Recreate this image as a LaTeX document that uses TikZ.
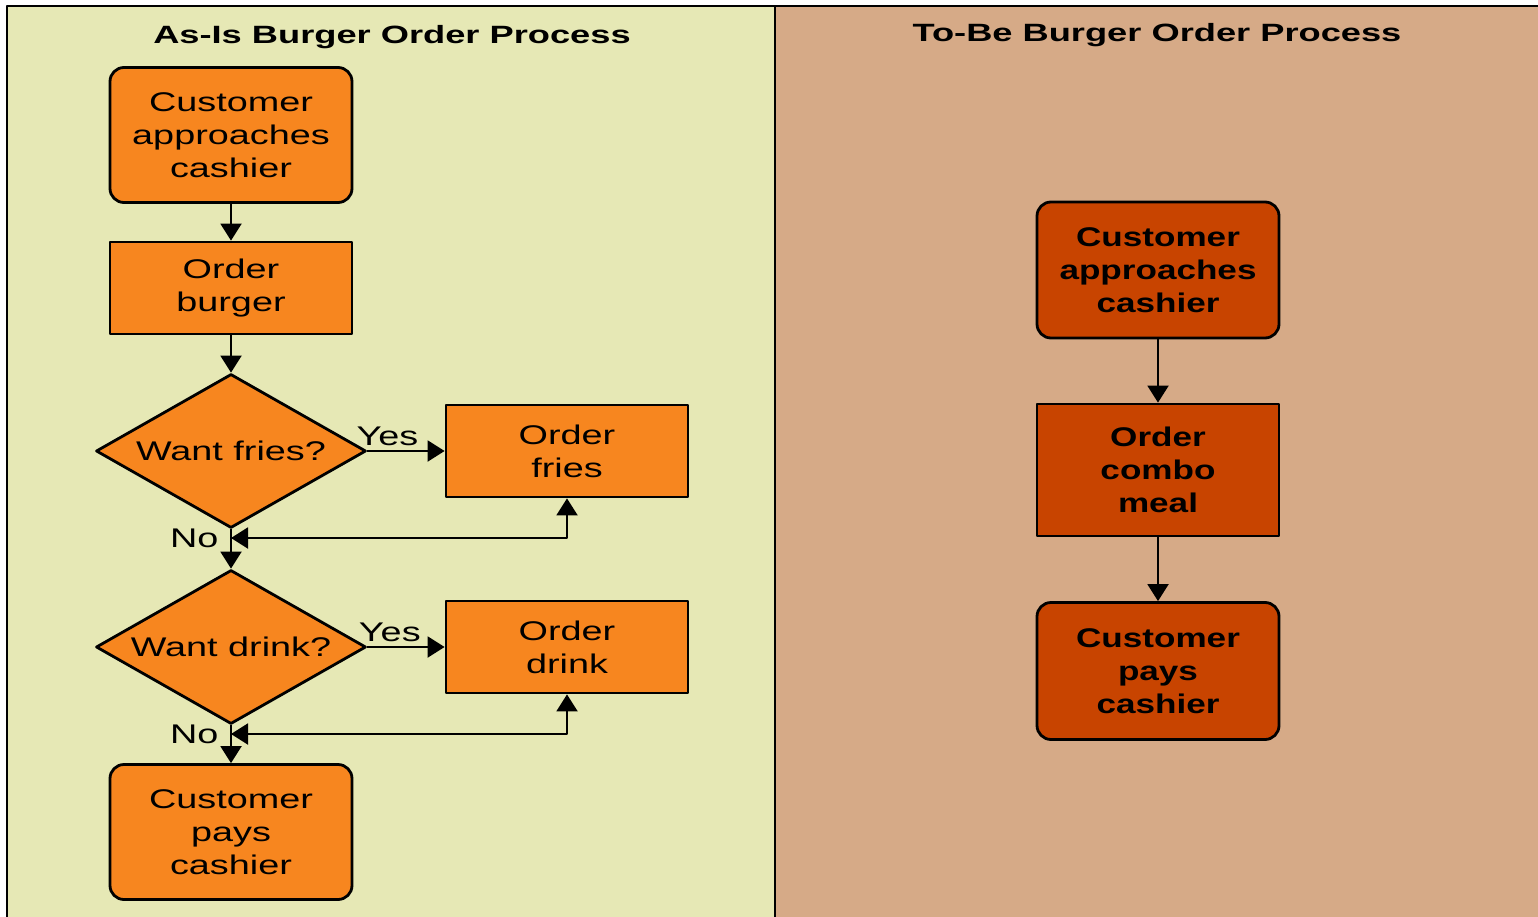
\documentclass[tikz,border=0pt]{standalone}
\usepackage{fontspec}
\setmainfont{Liberation Sans}
\newfontfamily\wideSans[FakeStretch=1.4]{Liberation Sans}
\newfontfamily\wideSansB[FakeStretch=1.3]{Liberation Sans}
\newfontfamily\titleSans[FakeStretch=1.45]{Liberation Sans}
\usetikzlibrary{arrows.meta,shapes.geometric}
\definecolor{asisbg}{HTML}{E6E8B5}
\definecolor{tobebg}{HTML}{D6AA87}
\definecolor{asisbox}{HTML}{F7861F}
\definecolor{tobebox}{HTML}{C84400}
\begin{document}
\begin{tikzpicture}[>={Triangle[length=17pt,width=21pt]},line join=round,x=1pt,y=-1pt,
	font=\wideSans\fontsize{27}{33}\selectfont,
	proc/.style={draw=black,line width=2.8pt,minimum width=242pt,align=center,inner sep=0pt},
	rproc/.style={proc,rounded corners=14pt},
	ask/.style={diamond,draw=black,line width=2.8pt,fill=asisbox,aspect=1.75,
		minimum width=270pt,minimum height=154pt,inner sep=0pt},
	flow/.style={->,line width=2pt},
	ttl/.style={font=\titleSans\bfseries\fontsize{25}{28}\selectfont},
	tobe/.style={font=\wideSansB\bfseries\fontsize{27}{33}\selectfont,fill=tobebox}]
	\useasboundingbox (0,0) rectangle (1538,917);
	% two panels
	\fill[asisbg] (8,6) rectangle (775,917);
	\fill[tobebg] (775,6) rectangle (1538,917);
	\draw[line width=2.5pt] (7,917)--(7,6)--(1538,6);
	\draw[line width=2.5pt] (775,6)--(775,917);
	
	\node[ttl] (ttlasis) at (392,37) {As-Is Burger Order Process};
	\node[ttl] (ttltobe) at (1157,35) {To-Be Burger Order Process};
	
	% as-is
	\node[rproc,fill=asisbox,minimum height=135pt] (approach) at (231,135) {Customer\\approaches\\cashier};
	\node[proc,fill=asisbox,minimum height=92pt] (burger) at (231,288) {Order\\burger};
	\node[ask] (fries) at (231,451) {Want fries?};
	\node[proc,fill=asisbox,minimum height=92pt] (ofries) at (567,451) {Order\\fries};
	\node[ask] (drink) at (231,647) {Want drink?};
	\node[proc,fill=asisbox,minimum height=92pt] (odrink) at (567,647) {Order\\drink};
	\node[rproc,fill=asisbox,minimum height=135pt] (pay) at (231,832) {Customer\\pays\\cashier};
	\coordinate (nofries) at (231,538);
	\coordinate (nodrink) at (231,734);
	
	\draw[flow] (approach)--(burger);
	\draw[flow] (burger)--(fries);
	\draw[flow] (fries)--node[pos=0.26,above=1pt]{Yes}(ofries);
	\draw[flow] (fries)--(drink);
	\draw[flow,<->] (nofries)-|(ofries);
	\node[left=9pt] (nofrieslbl) at (nofries) {No};
	\draw[flow] (drink)--node[pos=0.29,above=1pt]{Yes}(odrink);
	\draw[flow] (drink)--(pay);
	\draw[flow,<->] (nodrink)-|(odrink);
	\node[left=9pt] (nodrinklbl) at (nodrink) {No};
	
	% to-be
	\node[rproc,tobe,minimum height=136pt] (tbapproach) at (1158,270) {Customer\\approaches\\cashier};
	\node[proc,tobe,minimum height=132pt] (combo) at (1158,470) {Order\\combo\\meal};
	\node[rproc,tobe,minimum height=137pt] (tbpay) at (1158,671) {Customer\\pays\\cashier};
	\draw[flow] (tbapproach)--(combo);
	\draw[flow] (combo)--(tbpay);
\end{tikzpicture}
\end{document}
